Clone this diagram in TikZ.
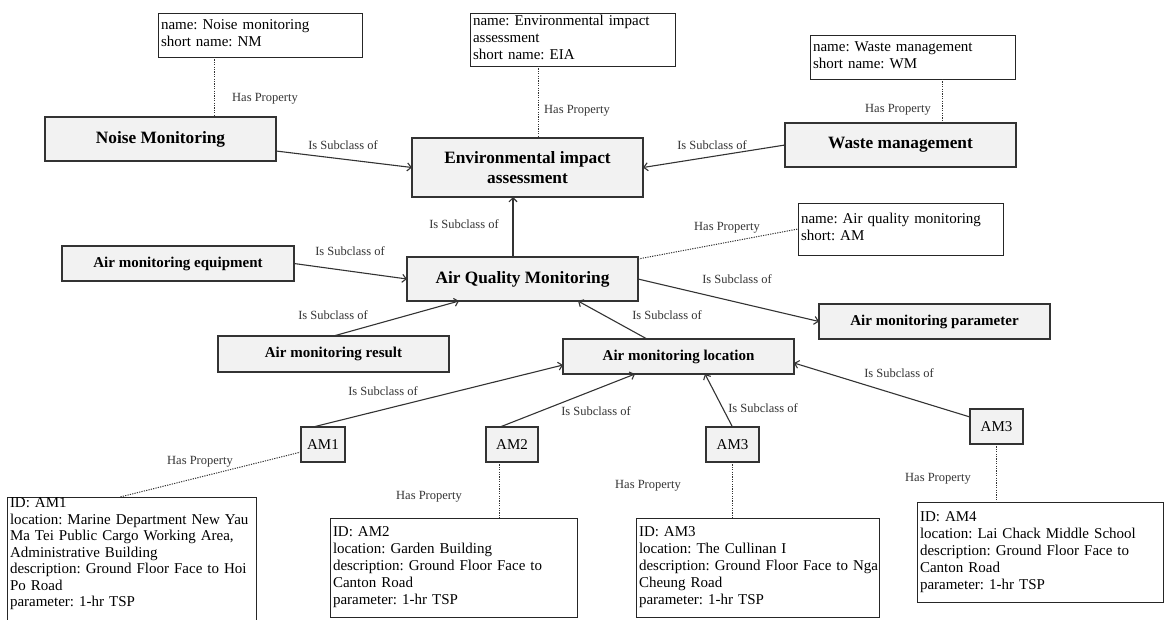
\documentclass[tikz,border=0pt]{standalone}
\usepackage{fontspec}
\setmainfont{Liberation Serif}
\usetikzlibrary{arrows.meta}
\definecolor{boxfill}{HTML}{F2F2F2}
\definecolor{ink}{HTML}{333333}
\frenchspacing
\begin{document}
\begin{tikzpicture}[x=1pt,y=-1pt,
  cls/.style={draw=ink, line width=1.1pt, fill=boxfill, inner sep=0pt, outer sep=0pt,
    align=center, font=\bfseries\fontsize{17.3}{20}\selectfont},
  clsS/.style={cls, font=\bfseries\fontsize{15}{17}\selectfont},
  inst/.style={cls, font=\fontsize{15}{17}\selectfont},
  prop/.style={draw=black!85, line width=1pt, fill=white, inner xsep=3pt, inner ysep=0pt,
    outer sep=0pt, align=left, anchor=north west, font=\fontsize{15}{17}\selectfont},
  lbl/.style={font=\fontsize{12.5}{14}\selectfont, text=ink, inner sep=0pt},
  sub/.style={draw=ink, line width=1.1pt, -{Straight Barb[length=4pt,width=8pt]}},
  hasprop/.style={draw=ink, line width=1pt, dash pattern=on 1.2pt off 1.2pt}
]
\useasboundingbox (0,0) rectangle (1169,619);

% ---- classes ----
\node[cls, minimum width=231pt, minimum height=44pt] (nm) at (160.5,139) {Noise Monitoring};
\node[cls, minimum width=231pt, minimum height=59pt] (eia) at (527.5,167.5) {Environmental impact\\assessment};
\node[cls, minimum width=231pt, minimum height=44pt] (wm) at (900.5,145) {Waste management};
\node[cls, minimum width=231pt, minimum height=44pt] (aqm) at (522.5,279) {Air Quality Monitoring};
\node[clsS, minimum width=232pt, minimum height=35pt] (equip) at (178,263.5) {Air monitoring equipment};
\node[clsS, minimum width=231pt, minimum height=36pt] (result) at (333.5,354) {Air monitoring result};
\node[clsS, minimum width=231pt, minimum height=35pt] (param) at (934.5,321.5) {Air monitoring parameter};
\node[clsS, minimum width=231pt, minimum height=35pt] (loc) at (678.5,356.5) {Air monitoring location};

% ---- instances ----
\node[inst, minimum width=44pt, minimum height=35pt] (am1) at (323,444.5) {AM1};
\node[inst, minimum width=52pt, minimum height=35pt] (am2) at (512,444.5) {AM2};
\node[inst, minimum width=53pt, minimum height=35pt] (am3) at (732.5,444.5) {AM3};
\node[inst, minimum width=53pt, minimum height=35pt] (am3b) at (996.5,426.5) {AM3};

% ---- property boxes ----
\node[prop, text width=198pt, minimum height=44pt] (nmp) at (158,13)
  {\strut name: Noise monitoring\\short name: NM\strut};
\node[prop, text width=199pt, minimum height=53pt] (eiap) at (470,13)
  {\strut name: Environmental impact\\assessment\\short name: EIA\strut};
\node[prop, text width=199pt, minimum height=44pt] (wmp) at (810,35)
  {\strut name: Waste management\\short name: WM\strut};
\node[prop, text width=199pt, minimum height=52pt] (aqmp) at (798,203)
  {\strut name: Air quality monitoring\\short: AM\strut};

\node[prop, text width=243pt, inner ysep=1pt, font=\fontsize{15}{16.5}\selectfont] (id1) at (7,497)
  {ID: AM1\\\mbox{location: Marine Department New Yau}\\\mbox{Ma Tei Public Cargo Working Area,}\\Administrative Building\\\mbox{description: Ground Floor Face to Hoi}\\Po Road\\parameter: 1-hr TSP\rule[-25pt]{0pt}{0pt}};
\node[prop, text width=241pt, minimum height=99pt] (id2) at (330,518)
  {\strut ID: AM2\\location: Garden Building\\description: Ground Floor Face to\\Canton Road\\parameter: 1-hr TSP\strut};
\node[prop, text width=237pt, minimum height=99pt] (id3) at (636,518)
  {\strut ID: AM3\\location: The Cullinan I\\\mbox{description: Ground Floor Face to Nga}\\Cheung Road\\parameter: 1-hr TSP\strut};
\node[prop, text width=240pt, minimum height=100pt] (id4) at (917,502)
  {\strut ID: AM4\\location: Lai Chack Middle School\\description: Ground Floor Face to\\Canton Road\\parameter: 1-hr TSP\strut};

% ---- subclass relations ----
\draw[sub] ([yshift=-12pt]nm.east) -- (eia.west);
\draw[sub] (wm.west) -- (eia.east);
\draw[sub] ([xshift=-9.5pt]aqm.north) -- ([xshift=-14.5pt]eia.south);
\draw[sub] (equip.east) -- (aqm.west);
\draw[sub] (result.north) -- ([xshift=-63.5pt]aqm.south);
\draw[sub] ([xshift=-31.5pt]loc.north) -- ([xshift=55.5pt]aqm.south);
\draw[sub] (aqm.east) -- (param.west);
\draw[sub] ([xshift=-10pt]am1.north) -- ([yshift=-8.5pt]loc.west);
\draw[sub] ([xshift=-12pt]am2.north) -- ([xshift=-43.5pt]loc.south);
\draw[sub] (am3.north) -- ([xshift=26.5pt]loc.south);
\draw[sub] ([yshift=9.5pt]am3b.west) -- ([yshift=-6.5pt]loc.east);

% ---- property links ----
\draw[hasprop] ([xshift=-46pt]nmp.south) -- ([xshift=53.5pt]nm.north);
\draw[hasprop] ([xshift=-34.5pt]eiap.south) -- ([xshift=10.5pt]eia.north);
\draw[hasprop] ([xshift=29.5pt]wmp.south) -- ([xshift=41.5pt]wm.north);
\draw[hasprop] ([yshift=-2pt]aqm.north east) -- (aqmp.west);
\draw[hasprop] ([yshift=-7.5pt]am1.west) -- ([xshift=-11.5pt]id1.north);
\draw[hasprop] ([xshift=-13pt]am2.south) -- ([xshift=45.5pt]id2.north);
\draw[hasprop] (am3.south) -- ([xshift=-25pt]id3.north);
\draw[hasprop] (am3b.south) -- ([xshift=-43.5pt]id4.north);

% ---- relation labels ----
\node[lbl] (s1) at (343,145) {Is Subclass of};
\node[lbl] (s2) at (712,145) {Is Subclass of};
\node[lbl] (s3) at (464,224) {Is Subclass of};
\node[lbl] (s4) at (350,251) {Is Subclass of};
\node[lbl] (s5) at (333,315) {Is Subclass of};
\node[lbl] (s6) at (667,315) {Is Subclass of};
\node[lbl] (s7) at (737,279) {Is Subclass of};
\node[lbl] (s8) at (383,391) {Is Subclass of};
\node[lbl] (s9) at (596,411) {Is Subclass of};
\node[lbl] (s10) at (763,408) {Is Subclass of};
\node[lbl] (s11) at (899,373) {Is Subclass of};

\node[lbl] (h1) at (265,99) {Has Property};
\node[lbl] (h2) at (577,111) {Has Property};
\node[lbl] (h3) at (898,110) {Has Property};
\node[lbl] (h4) at (727,228) {Has Property};
\node[lbl] (h5) at (200,462) {Has Property};
\node[lbl] (h6) at (429,497) {Has Property};
\node[lbl] (h7) at (648,486) {Has Property};
\node[lbl] (h8) at (938,479) {Has Property};
\end{tikzpicture}
\end{document}
